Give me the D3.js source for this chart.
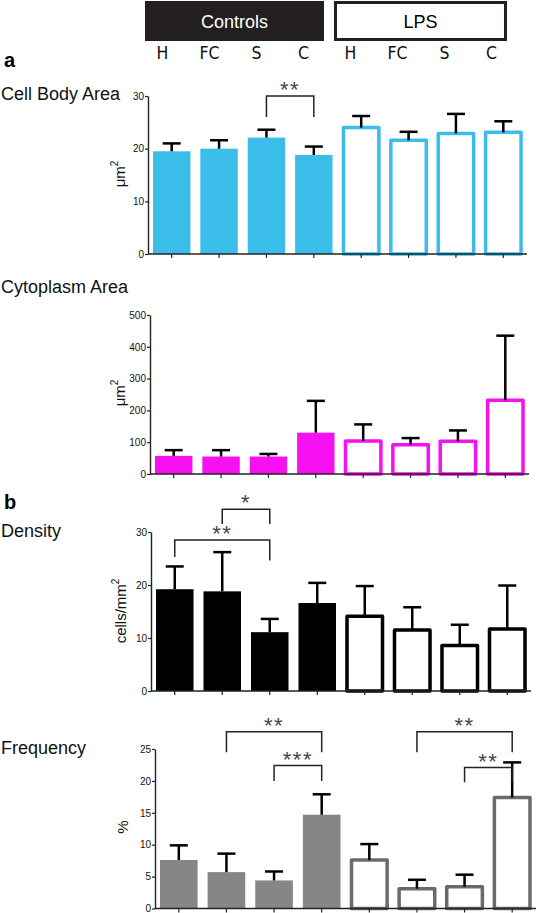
<!DOCTYPE html>
<html>
<head>
<meta charset="utf-8">
<script src="https://cdn.jsdelivr.net/npm/d3@7"></script>
<style>
  html, body { margin: 0; padding: 0; background: #fff; }
  svg { display: block; }
  text { font-family: "Liberation Sans", Arial, sans-serif; }
</style>
</head>
<body>
<svg id="chart" width="538" height="913"></svg>
<script>
// ---------------- data ----------------
const categories = ["H", "FC", "S", "C", "H", "FC", "S", "C"];
const groupNames = ["Controls", "LPS"];
const groupOf = [0, 0, 0, 0, 1, 1, 1, 1];          // 0 = Controls (filled), 1 = LPS (open)
const panelLetters = ["a", "b"];
const panelTitles = ["Cell Body Area", "Cytoplasm Area", "Density", "Frequency"];
const yLabels = ["μm", "μm", "cells/mm", "%"];
const yLabelSup = ["2", "2", "2", ""];

const cellBodyMean = [19.5, 20.0, 22.1, 18.8, 24.0, 21.6, 22.9, 23.1];
const cellBodyErr  = [1.5, 1.6, 1.5, 1.6, 2.2, 1.6, 3.7, 2.1];
const cellBodyTicks = [0, 10, 20, 30];

const cytoMean = [57, 55, 55, 130, 104, 92, 103, 232];
const cytoErr  = [18, 20, 8, 100, 52, 21, 34, 203];
const cytoTicks = [0, 100, 200, 300, 400, 500];

const densityMean = [19.2, 18.8, 11.1, 16.6, 14.1, 11.5, 8.6, 11.7];
const densityErr  = [4.3, 7.4, 2.5, 3.8, 5.7, 4.3, 3.9, 8.2];
const densityTicks = [0, 10, 20, 30];

const freqMean = [7.6, 5.7, 4.4, 14.7, 7.6, 3.1, 3.4, 17.4];
const freqErr  = [2.3, 2.9, 1.4, 3.2, 2.5, 1.4, 1.9, 5.5];
const freqTicks = [0, 5, 10, 15, 20, 25];

// significance brackets: [fromIndex, toIndex, topValue, leftLegValue, rightLegValue, label]
const cellBodySig = [[2, 3, 30.0, 26.0, 26.0, "**"]];
const cytoSig = [];
const densitySig = [
  [0, 2, 28.5, 25.3, 24.6, "**"],
  [1, 2, 34.3, 31.5, 31.5, "*"]
];
const freqSig = [
  [1, 3, 27.7, 24.5, 24.5, "**"],
  [2, 3, 22.4, 20.0, 20.0, "***"],
  [5, 7, 27.7, 24.5, 24.5, "**"],
  [6, 7, 22.1, 19.8, 19.8, "**"]
];

// ---------------- layout / style ----------------
const svg = d3.select("#chart");
const BLUE = "#3bbde9", MAGENTA = "#f811f0", GRAY = "#868686", GRAY_STROKE = "#6a6a6a", DARK = "#231f20";

const panels = [
  { mean: cellBodyMean, err: cellBodyErr, ticks: cellBodyTicks, sig: cellBodySig,
    fill: BLUE, stroke: BLUE, x0: 148, x1: 527, yBottom: 254, yTop: 96,
    titleY: 100, labelX: 125, labelY: 174 },
  { mean: cytoMean, err: cytoErr, ticks: cytoTicks, sig: cytoSig,
    fill: MAGENTA, stroke: MAGENTA, x0: 150, x1: 529, yBottom: 474, yTop: 315,
    titleY: 293, labelX: 125, labelY: 393 },
  { mean: densityMean, err: densityErr, ticks: densityTicks, sig: densitySig,
    fill: "#000", stroke: "#000", x0: 151, x1: 531, yBottom: 691, yTop: 532,
    titleY: 537, labelX: 126, labelY: 611 },
  { mean: freqMean, err: freqErr, ticks: freqTicks, sig: freqSig,
    fill: GRAY, stroke: GRAY_STROKE, x0: 155, x1: 536, yBottom: 908.5, yTop: 749,
    titleY: 754, labelX: 128, labelY: 827 }
];

// ---------------- header ----------------
const hx = d3.scaleBand().domain(d3.range(categories.length)).range([139, 515]).padding(0);
const ctrlL = hx(0) + 6, ctrlR = hx(4) - 3;
const lpsL = hx(4) + 7, lpsR = hx(7) + hx.bandwidth() - 8;
// Controls box
svg.append("rect")
  .attr("x", ctrlL).attr("y", 1)
  .attr("width", ctrlR - ctrlL).attr("height", 40)
  .attr("fill", DARK);
svg.append("text")
  .attr("x", (ctrlL + ctrlR) / 2).attr("y", 28)
  .attr("text-anchor", "middle").attr("fill", "#fff")
  .attr("font-size", 18).text(groupNames[0]);
// LPS box
svg.append("rect")
  .attr("x", lpsL + 1.5).attr("y", 2.5)
  .attr("width", lpsR - lpsL - 3).attr("height", 37)
  .attr("fill", "#fff").attr("stroke", DARK).attr("stroke-width", 3);
svg.append("text")
  .attr("x", (lpsL + lpsR) / 2).attr("y", 28)
  .attr("text-anchor", "middle").attr("fill", "#000")
  .attr("font-size", 18).text(groupNames[1]);
// category letters
svg.selectAll("text.cat").data(categories).join("text")
  .attr("class", "cat")
  .attr("x", (d, i) => hx(i) + hx.bandwidth() / 2)
  .attr("y", 59)
  .attr("text-anchor", "middle")
  .style("font-family", "'DejaVu Sans Condensed', 'DejaVu Sans', sans-serif")
  .style("font-stretch", "condensed")
  .attr("font-size", 17.5)
  .attr("fill", "#111")
  .text(d => d);

// panel letters
svg.append("text").attr("x", 4).attr("y", 67).attr("font-size", 20).attr("font-weight", "bold").text(panelLetters[0]);
svg.append("text").attr("x", 4).attr("y", 509).attr("font-size", 20).attr("font-weight", "bold").text(panelLetters[1]);

// ---------------- panels ----------------
panels.forEach((p, pi) => {
  const g = svg.append("g");
  const x = d3.scaleBand().domain(d3.range(categories.length)).range([p.x0, p.x1]).paddingInner(0.21).paddingOuter(0.105);
  const y = d3.scaleLinear().domain([0, d3.max(p.ticks)]).range([p.yBottom, p.yTop]);
  const bw = x.bandwidth();

  // title
  svg.append("text").attr("x", 1).attr("y", p.titleY).attr("font-size", 18).attr("fill", "#111").text(panelTitles[pi]);

  // y label (rotated)
  const yl = svg.append("text")
    .attr("transform", `translate(${p.labelX},${p.labelY}) rotate(-90)`)
    .attr("text-anchor", "middle").attr("font-size", 15).attr("fill", "#111");
  yl.append("tspan").text(yLabels[pi]);
  if (yLabelSup[pi]) yl.append("tspan").attr("font-size", 10).attr("dy", -7).text(yLabelSup[pi]);

  // bars
  p.mean.forEach((m, i) => {
    const open = groupOf[i] === 1;
    const sw = 3.5;
    if (open) {
      g.append("rect")
        .attr("x", x(i) + 1).attr("y", y(m))
        .attr("width", bw - 2).attr("height", y(0) - y(m))
        .attr("fill", "#fff").attr("stroke", p.stroke).attr("stroke-width", sw)
        .attr("stroke-linejoin", "round");
    } else {
      g.append("rect")
        .attr("x", x(i)).attr("y", y(m))
        .attr("width", bw).attr("height", y(0) - y(m))
        .attr("fill", p.fill);
    }
    // error bar
    const cx = x(i) + bw / 2;
    const top = y(m + p.err[i]);
    g.append("line").attr("x1", cx).attr("x2", cx).attr("y1", y(m)).attr("y2", top)
      .attr("stroke", "#000").attr("stroke-width", 2.5);
    g.append("line").attr("x1", cx - 9).attr("x2", cx + 9).attr("y1", top).attr("y2", top)
      .attr("stroke", "#000").attr("stroke-width", 2.5);
  });

  // axes
  const ya = g.append("g").attr("transform", `translate(${p.x0},0)`)
    .call(d3.axisLeft(y).tickValues(p.ticks).tickSize(3).tickSizeOuter(0).tickPadding(1));
  ya.select(".domain").attr("stroke", "#222").attr("stroke-width", 1.4);
  ya.selectAll(".tick line").attr("stroke", "#222").attr("stroke-width", 1.2);
  ya.selectAll(".tick text").attr("font-size", 10).attr("fill", "#111")
    .style("font-family", "'Liberation Sans', Arial, sans-serif");

  const xa = g.append("g").attr("transform", `translate(0,${p.yBottom})`)
    .call(d3.axisBottom(x).tickSize(4).tickSizeOuter(0).tickFormat(""));
  xa.select(".domain").attr("stroke", "#222").attr("stroke-width", 1.4)
    .attr("d", `M${p.x0},0H${p.x1}`);
  xa.selectAll(".tick line").attr("stroke", "#222").attr("stroke-width", 1.2);

  // significance brackets
  p.sig.forEach(s => {
    const [a, b, topV, lV, rV, lab] = s;
    const xa1 = x(a) + bw / 2, xb1 = x(b) + bw / 2;
    g.append("path")
      .attr("d", `M${xa1},${y(lV)}V${y(topV)}H${xb1}V${y(rV)}`)
      .attr("fill", "none").attr("stroke", "#222").attr("stroke-width", 1.5);
    g.append("text")
      .attr("x", (xa1 + xb1) / 2).attr("y", y(topV) + 1)
      .attr("text-anchor", "middle").attr("font-size", 22).attr("letter-spacing", 1.5)
      .attr("fill", "#444").text(lab);
  });
});
</script>
</body>
</html>
